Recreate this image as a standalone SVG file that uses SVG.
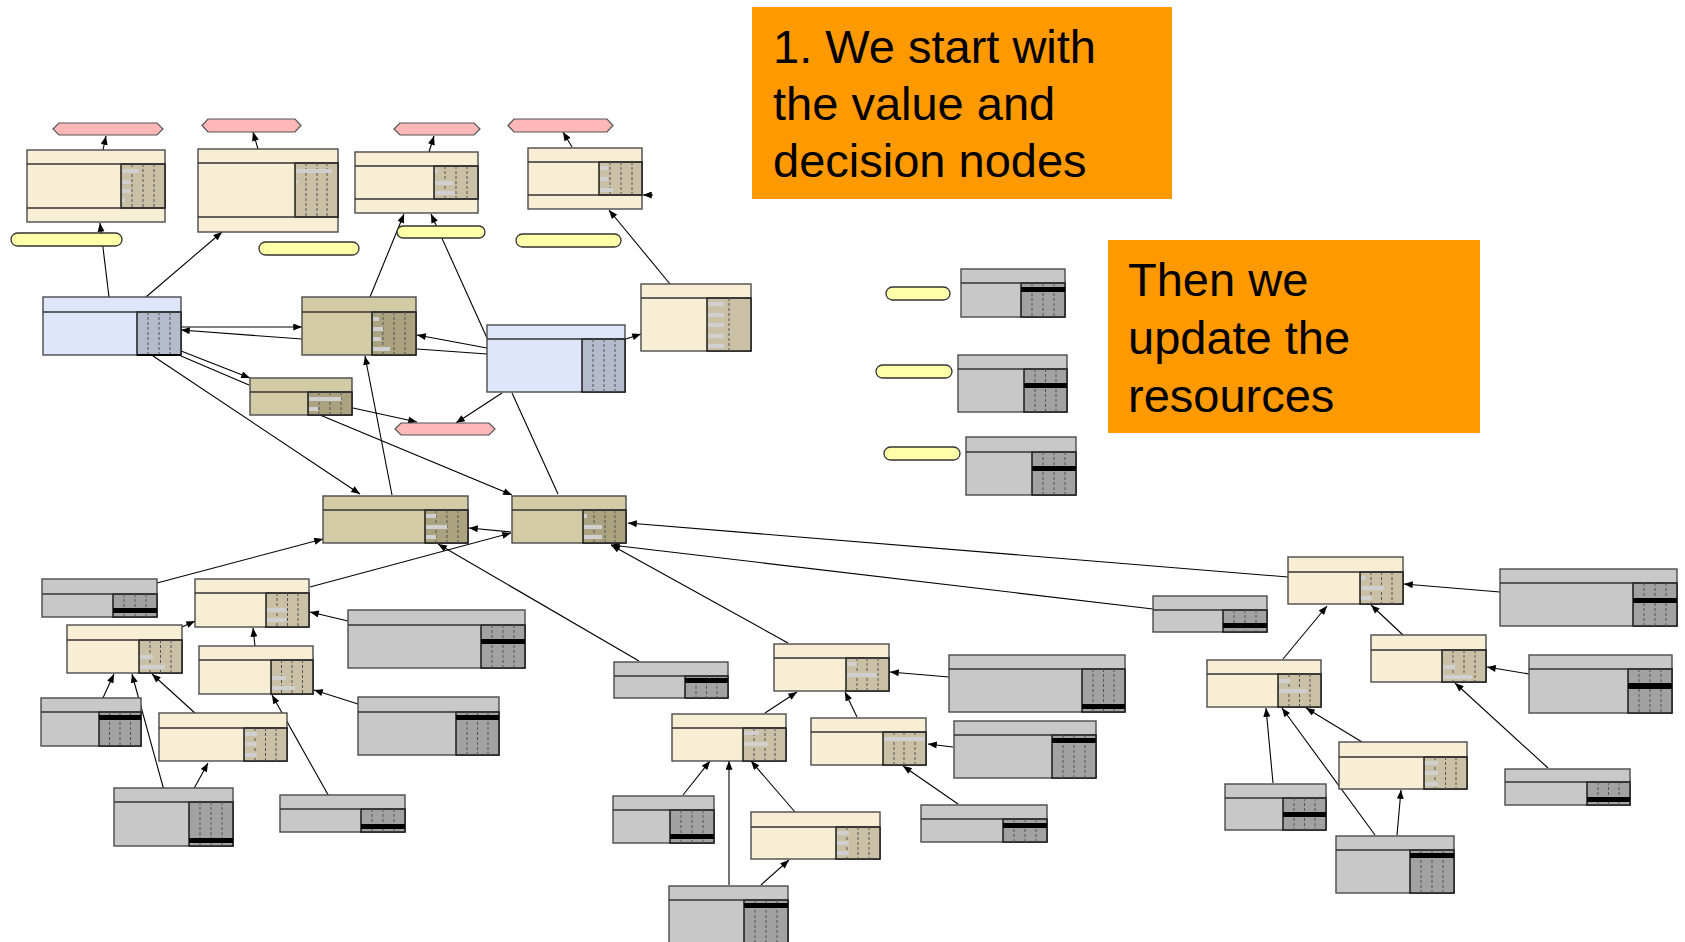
<svg xmlns="http://www.w3.org/2000/svg" width="1685" height="942" viewBox="0 0 1685 942">
<style>
.o{stroke:#4a4a4a;stroke-width:1.4}
.lt{fill:#f7eed3}.ltr{fill:#c9c0a6}
.dt{fill:#d3cba6}.dtr{fill:#aba27f}
.bl{fill:#dde6fb}.blr{fill:#b4bbcc}
.gr{fill:#c8c8c8}.grr{fill:#a2a2a2}
.sec{stroke:#111;stroke-width:1.4}
.hl{stroke:#333;stroke-width:1.3}
.ds{stroke:#555;stroke-width:1;stroke-dasharray:3 2}
.bar{fill:#d0d0d0}
.band{fill:#000}
.hex{fill:#ffb8b8;stroke:#555;stroke-width:1.2}
.pill{fill:#ffffaa;stroke:#333;stroke-width:1.3}
.e{stroke:#000;stroke-width:1.1;fill:none;marker-end:url(#ah)}
.n{stroke:#000;stroke-width:1.1;fill:none}
.note{fill:#ff9900}
.nt{font-family:"Liberation Sans",Arial,sans-serif;font-size:47px;fill:#000}
</style>
<defs>
<marker id="ah" viewBox="0 0 10 8" refX="10" refY="4" markerWidth="10" markerHeight="7" markerUnits="userSpaceOnUse" orient="auto"><path d="M0,0 L10,4 L0,8 z" fill="#000"/></marker>
</defs>
<rect width="1685" height="942" fill="#fff"/>

<g id="connectors">
<line class="e" x1="103" y1="150" x2="106" y2="136"/>
<line class="e" x1="258" y1="149" x2="253" y2="132"/>
<line class="e" x1="429" y1="152" x2="434" y2="136"/>
<line class="e" x1="572" y1="147" x2="563" y2="132"/>
<line class="e" x1="109" y1="297" x2="100" y2="223"/>
<line class="e" x1="146" y1="297" x2="222" y2="232"/>
<line class="e" x1="181" y1="327" x2="302" y2="327"/>
<line class="e" x1="302" y1="339" x2="181" y2="330"/>
<line class="e" x1="370" y1="297" x2="404" y2="214"/>
<line class="e" x1="487" y1="338" x2="431" y2="214"/>
<line class="e" x1="670" y1="284" x2="609" y2="210"/>
<line class="e" x1="626" y1="339" x2="641" y2="334"/>
<line class="e" x1="181" y1="351" x2="250" y2="378"/>
<line class="n" x1="181" y1="356" x2="249" y2="385"/>
<line class="e" x1="487" y1="348" x2="417" y2="335"/>
<line class="n" x1="487" y1="354" x2="417" y2="349"/>
<line class="e" x1="353" y1="408" x2="417" y2="422"/>
<line class="e" x1="502" y1="393" x2="456" y2="423"/>
<line class="e" x1="153" y1="356" x2="360" y2="494"/>
<line class="e" x1="320" y1="415" x2="512" y2="495"/>
<line class="e" x1="392" y1="495" x2="365" y2="356"/>
<line class="n" x1="558" y1="494" x2="512" y2="393"/>
<line class="e" x1="511" y1="532" x2="469" y2="528"/>
<line class="e" x1="157" y1="583" x2="323" y2="539"/>
<line class="e" x1="310" y1="587" x2="511" y2="533"/>
<line class="e" x1="639" y1="661" x2="438" y2="544"/>
<line class="e" x1="1288" y1="577" x2="628" y2="523"/>
<line class="e" x1="1153" y1="609" x2="611" y2="545"/>
<line class="e" x1="788" y1="643" x2="611" y2="545"/>
<line class="e" x1="182" y1="627" x2="195" y2="621"/>
<line class="e" x1="348" y1="621" x2="310" y2="612"/>
<line class="e" x1="255" y1="646" x2="253" y2="628"/>
<line class="e" x1="358" y1="704" x2="314" y2="690"/>
<line class="e" x1="102" y1="700" x2="114" y2="674"/>
<line class="e" x1="196" y1="714" x2="152" y2="674"/>
<line class="e" x1="165" y1="794" x2="132" y2="674"/>
<line class="e" x1="191" y1="794" x2="208" y2="763"/>
<line class="e" x1="331" y1="800" x2="272" y2="695"/>
<line class="e" x1="949" y1="677" x2="890" y2="672"/>
<line class="e" x1="765" y1="713" x2="797" y2="692"/>
<line class="e" x1="857" y1="717" x2="845" y2="692"/>
<line class="e" x1="953" y1="747" x2="928" y2="744"/>
<line class="e" x1="683" y1="795" x2="710" y2="761"/>
<line class="e" x1="795" y1="812" x2="751" y2="761"/>
<line class="e" x1="729" y1="885" x2="729" y2="761"/>
<line class="e" x1="761" y1="885" x2="789" y2="860"/>
<line class="e" x1="958" y1="804" x2="903" y2="766"/>
<line class="e" x1="1500" y1="592" x2="1404" y2="584"/>
<line class="e" x1="1283" y1="659" x2="1327" y2="606"/>
<line class="e" x1="1403" y1="635" x2="1371" y2="605"/>
<line class="e" x1="1529" y1="674" x2="1487" y2="667"/>
<line class="e" x1="1362" y1="742" x2="1306" y2="708"/>
<line class="e" x1="1273" y1="783" x2="1266" y2="708"/>
<line class="e" x1="1375" y1="835" x2="1282" y2="708"/>
<line class="e" x1="1397" y1="835" x2="1401" y2="790"/>
<line class="e" x1="1548" y1="768" x2="1455" y2="683"/>
<line class="e" x1="653" y1="195" x2="643" y2="195"/>
</g>

<g id="P1"><polygon class="hex" points="53,129 59,123 157,123 163,129 157,135 59,135"/></g>
<g id="P2"><polygon class="hex" points="202,125.5 208,119 295,119 301,125.5 295,132 208,132"/></g>
<g id="P3"><polygon class="hex" points="394,129 400,123 474,123 480,129 474,135 400,135"/></g>
<g id="P4"><polygon class="hex" points="508,125.5 514,119 607,119 613,125.5 607,132 514,132"/></g>
<g id="P5"><polygon class="hex" points="395,429 401,423 489,423 495,429 489,435 401,435"/></g>

<g id="Y1"><rect class="pill" x="11" y="233" width="111" height="13" rx="6.5"/></g>
<g id="Y2"><rect class="pill" x="259" y="242" width="100" height="13" rx="6.5"/></g>
<g id="Y3"><rect class="pill" x="397" y="226" width="88" height="12" rx="6"/></g>
<g id="Y4"><rect class="pill" x="516" y="234" width="105" height="13" rx="6.5"/></g>
<g id="L1"><rect class="pill" x="886" y="287" width="64" height="13" rx="6.5"/></g>
<g id="L2"><rect class="pill" x="876" y="365" width="76" height="13" rx="6.5"/></g>
<g id="L3"><rect class="pill" x="884" y="447" width="76" height="13" rx="6.5"/></g>

<!-- light tan nodes with bottom band -->
<g id="A1"><rect class="lt o" x="27" y="150" width="138" height="72"/><rect class="ltr sec" x="121" y="164" width="44" height="44"/><line class="hl" x1="27" y1="164" x2="165" y2="164"/><line class="hl" x1="27" y1="208" x2="165" y2="208"/><line class="ds" x1="132" y1="164" x2="132" y2="208"/><line class="ds" x1="143" y1="164" x2="143" y2="208"/><line class="ds" x1="154" y1="164" x2="154" y2="208"/><rect class="bar" x="122" y="169" width="17" height="4"/><rect class="bar" x="122" y="180" width="8" height="4"/><rect class="bar" x="122" y="189" width="9" height="4"/><rect class="bar" x="122" y="198" width="3" height="4"/></g>
<g id="A2"><rect class="lt o" x="198" y="149" width="140" height="83"/><rect class="ltr sec" x="295" y="163" width="43" height="54"/><line class="hl" x1="198" y1="163" x2="339" y2="163"/><line class="hl" x1="198" y1="217" x2="339" y2="217"/><line class="ds" x1="306" y1="163" x2="306" y2="217"/><line class="ds" x1="317" y1="163" x2="317" y2="217"/><line class="ds" x1="327" y1="163" x2="327" y2="217"/><rect class="bar" x="296" y="169" width="36" height="4"/><rect class="bar" x="296" y="180" width="2" height="3"/></g>
<g id="A3"><rect class="lt o" x="355" y="152" width="123" height="61"/><rect class="ltr sec" x="434" y="166" width="44" height="33"/><line class="hl" x1="355" y1="166" x2="478" y2="166"/><line class="hl" x1="355" y1="199" x2="478" y2="199"/><line class="ds" x1="445" y1="166" x2="445" y2="199"/><line class="ds" x1="456" y1="166" x2="456" y2="199"/><line class="ds" x1="467" y1="166" x2="467" y2="199"/><rect class="bar" x="435" y="169" width="3" height="4"/><rect class="bar" x="435" y="181" width="18" height="4"/><rect class="bar" x="435" y="191" width="20" height="4"/></g>
<g id="A4"><rect class="lt o" x="528" y="148" width="114" height="61"/><rect class="ltr sec" x="599" y="162" width="43" height="33"/><line class="hl" x1="528" y1="162" x2="642" y2="162"/><line class="hl" x1="528" y1="195" x2="642" y2="195"/><line class="ds" x1="610" y1="162" x2="610" y2="195"/><line class="ds" x1="621" y1="162" x2="621" y2="195"/><line class="ds" x1="632" y1="162" x2="632" y2="195"/><rect class="bar" x="600" y="166" width="8" height="4"/><rect class="bar" x="600" y="177" width="8" height="4"/><rect class="bar" x="600" y="188" width="13" height="4"/></g>

<!-- blue decision nodes -->
<g id="B1"><rect class="bl o" x="43" y="297" width="138" height="58"/><rect class="blr sec" x="137" y="312" width="44" height="43"/><line class="hl" x1="43" y1="312" x2="181" y2="312"/><line class="ds" x1="148" y1="312" x2="148" y2="355"/><line class="ds" x1="159" y1="312" x2="159" y2="355"/><line class="ds" x1="170" y1="312" x2="170" y2="355"/><line stroke="#000" stroke-width="2" x1="137" y1="355" x2="181" y2="355"/></g>
<g id="B2"><rect class="bl o" x="487" y="325" width="138" height="67"/><rect class="blr sec" x="582" y="339" width="43" height="53"/><line class="hl" x1="487" y1="339" x2="625" y2="339"/><line class="ds" x1="593" y1="339" x2="593" y2="392"/><line class="ds" x1="604" y1="339" x2="604" y2="392"/><line class="ds" x1="615" y1="339" x2="615" y2="392"/></g>

<!-- dark tan nodes -->
<g id="C1"><rect class="dt o" x="302" y="297" width="114" height="58"/><rect class="dtr sec" x="372" y="312" width="44" height="43"/><line class="hl" x1="302" y1="312" x2="416" y2="312"/><line class="ds" x1="383" y1="312" x2="383" y2="355"/><line class="ds" x1="394" y1="312" x2="394" y2="355"/><line class="ds" x1="405" y1="312" x2="405" y2="355"/><rect class="bar" x="373" y="317" width="6" height="4"/><rect class="bar" x="373" y="327" width="10" height="4"/><rect class="bar" x="373" y="337" width="8" height="4"/><rect class="bar" x="373" y="347" width="17" height="4"/></g>
<g id="C2"><rect class="dt o" x="250" y="378" width="102" height="37"/><rect class="dtr sec" x="308" y="392" width="44" height="23"/><line class="hl" x1="250" y1="392" x2="352" y2="392"/><line class="ds" x1="319" y1="392" x2="319" y2="415"/><line class="ds" x1="330" y1="392" x2="330" y2="415"/><line class="ds" x1="341" y1="392" x2="341" y2="415"/><rect class="bar" x="309" y="397" width="32" height="4"/><rect class="bar" x="309" y="407" width="9" height="4"/></g>
<g id="E1"><rect class="dt o" x="323" y="496" width="145" height="47"/><rect class="dtr sec" x="425" y="510" width="43" height="33"/><line class="hl" x1="323" y1="510" x2="468" y2="510"/><line class="ds" x1="436" y1="510" x2="436" y2="543"/><line class="ds" x1="447" y1="510" x2="447" y2="543"/><line class="ds" x1="458" y1="510" x2="458" y2="543"/><rect class="bar" x="426" y="514" width="10" height="4"/><rect class="bar" x="426" y="525" width="21" height="4"/><rect class="bar" x="426" y="535" width="10" height="4"/></g>
<g id="E2"><rect class="dt o" x="512" y="496" width="114" height="47"/><rect class="dtr sec" x="583" y="510" width="43" height="33"/><line class="hl" x1="512" y1="510" x2="626" y2="510"/><line class="ds" x1="594" y1="510" x2="594" y2="543"/><line class="ds" x1="605" y1="510" x2="605" y2="543"/><line class="ds" x1="615" y1="510" x2="615" y2="543"/><rect class="bar" x="584" y="514" width="3" height="4"/><rect class="bar" x="584" y="525" width="18" height="4"/><rect class="bar" x="584" y="535" width="18" height="4"/></g>

<!-- light tan nodes -->
<g id="A5"><rect class="lt o" x="641" y="284" width="110" height="67"/><rect class="ltr sec" x="707" y="298" width="44" height="53"/><line class="hl" x1="641" y1="298" x2="751" y2="298"/><line class="ds" x1="729" y1="298" x2="729" y2="351"/><rect class="bar" x="708" y="302" width="16" height="4"/><rect class="bar" x="708" y="313" width="16" height="4"/><rect class="bar" x="708" y="323" width="16" height="4"/><rect class="bar" x="708" y="334" width="16" height="4"/><rect class="bar" x="708" y="344" width="16" height="4"/></g>
<g id="F1"><rect class="lt o" x="67" y="625" width="115" height="48"/><rect class="ltr sec" x="139" y="640" width="43" height="33"/><line class="hl" x1="67" y1="640" x2="182" y2="640"/><line class="ds" x1="150" y1="640" x2="150" y2="673"/><line class="ds" x1="160.5" y1="640" x2="160.5" y2="673"/><line class="ds" x1="171" y1="640" x2="171" y2="673"/><rect class="bar" x="140" y="655" width="13" height="4"/><rect class="bar" x="140" y="665" width="25" height="4"/></g>
<g id="F2"><rect class="lt o" x="195" y="579" width="114" height="48"/><rect class="ltr sec" x="266" y="593" width="43" height="34"/><line class="hl" x1="195" y1="593" x2="309" y2="593"/><line class="ds" x1="277" y1="593" x2="277" y2="627"/><line class="ds" x1="287.5" y1="593" x2="287.5" y2="627"/><line class="ds" x1="298" y1="593" x2="298" y2="627"/><rect class="bar" x="267" y="608" width="19" height="4"/><rect class="bar" x="267" y="618" width="19" height="4"/></g>
<g id="F3"><rect class="lt o" x="199" y="646" width="114" height="48"/><rect class="ltr sec" x="271" y="660" width="42" height="34"/><line class="hl" x1="199" y1="660" x2="313" y2="660"/><line class="ds" x1="281.5" y1="660" x2="281.5" y2="694"/><line class="ds" x1="292" y1="660" x2="292" y2="694"/><line class="ds" x1="302.5" y1="660" x2="302.5" y2="694"/><rect class="bar" x="272" y="676" width="14" height="4"/><rect class="bar" x="272" y="686" width="23" height="4"/></g>
<g id="F4"><rect class="lt o" x="159" y="713" width="128" height="48"/><rect class="ltr sec" x="244" y="728" width="43" height="33"/><line class="hl" x1="159" y1="728" x2="287" y2="728"/><line class="ds" x1="255" y1="728" x2="255" y2="761"/><line class="ds" x1="265.5" y1="728" x2="265.5" y2="761"/><line class="ds" x1="276" y1="728" x2="276" y2="761"/><rect class="bar" x="245" y="732" width="12" height="4"/><rect class="bar" x="245" y="742" width="12" height="4"/><rect class="bar" x="245" y="753" width="12" height="4"/></g>
<g id="J1"><rect class="lt o" x="774" y="644" width="115" height="47"/><rect class="ltr sec" x="846" y="658" width="43" height="33"/><line class="hl" x1="774" y1="658" x2="889" y2="658"/><line class="ds" x1="857" y1="658" x2="857" y2="691"/><line class="ds" x1="867" y1="658" x2="867" y2="691"/><line class="ds" x1="878" y1="658" x2="878" y2="691"/><rect class="bar" x="847" y="662" width="10" height="4"/><rect class="bar" x="847" y="673" width="30" height="4"/></g>
<g id="J3"><rect class="lt o" x="672" y="714" width="114" height="47"/><rect class="ltr sec" x="743" y="728" width="43" height="33"/><line class="hl" x1="672" y1="728" x2="786" y2="728"/><line class="ds" x1="754" y1="728" x2="754" y2="761"/><line class="ds" x1="765" y1="728" x2="765" y2="761"/><line class="ds" x1="775" y1="728" x2="775" y2="761"/><rect class="bar" x="744" y="731" width="15" height="4"/><rect class="bar" x="744" y="742" width="24" height="4"/></g>
<g id="J4"><rect class="lt o" x="811" y="718" width="115" height="47"/><rect class="ltr sec" x="883" y="732" width="43" height="33"/><line class="hl" x1="811" y1="732" x2="926" y2="732"/><line class="ds" x1="894" y1="732" x2="894" y2="765"/><line class="ds" x1="904" y1="732" x2="904" y2="765"/><line class="ds" x1="915" y1="732" x2="915" y2="765"/><rect class="bar" x="884" y="737" width="41" height="4"/></g>
<g id="J7"><rect class="lt o" x="751" y="812" width="129" height="47"/><rect class="ltr sec" x="836" y="827" width="44" height="32"/><line class="hl" x1="751" y1="827" x2="880" y2="827"/><line class="ds" x1="847" y1="827" x2="847" y2="859"/><line class="ds" x1="858" y1="827" x2="858" y2="859"/><line class="ds" x1="869" y1="827" x2="869" y2="859"/><rect class="bar" x="837" y="831" width="12" height="4"/><rect class="bar" x="837" y="841" width="12" height="4"/><rect class="bar" x="837" y="851" width="12" height="4"/></g>
<g id="H1"><rect class="lt o" x="1288" y="557" width="115" height="47"/><rect class="ltr sec" x="1360" y="572" width="43" height="32"/><line class="hl" x1="1288" y1="572" x2="1403" y2="572"/><line class="ds" x1="1371" y1="572" x2="1371" y2="604"/><line class="ds" x1="1381.5" y1="572" x2="1381.5" y2="604"/><line class="ds" x1="1392" y1="572" x2="1392" y2="604"/><rect class="bar" x="1361" y="576" width="5" height="4"/><rect class="bar" x="1361" y="586" width="23" height="4"/><rect class="bar" x="1361" y="596" width="11" height="4"/></g>
<g id="H3"><rect class="lt o" x="1207" y="660" width="114" height="47"/><rect class="ltr sec" x="1278" y="674" width="43" height="33"/><line class="hl" x1="1207" y1="674" x2="1321" y2="674"/><line class="ds" x1="1289" y1="674" x2="1289" y2="707"/><line class="ds" x1="1299.5" y1="674" x2="1299.5" y2="707"/><line class="ds" x1="1310" y1="674" x2="1310" y2="707"/><rect class="bar" x="1279" y="679" width="11" height="4"/><rect class="bar" x="1279" y="689" width="28" height="4"/></g>
<g id="H4"><rect class="lt o" x="1371" y="635" width="115" height="47"/><rect class="ltr sec" x="1442" y="650" width="44" height="32"/><line class="hl" x1="1371" y1="650" x2="1486" y2="650"/><line class="ds" x1="1453" y1="650" x2="1453" y2="682"/><line class="ds" x1="1464" y1="650" x2="1464" y2="682"/><line class="ds" x1="1475" y1="650" x2="1475" y2="682"/><rect class="bar" x="1443" y="665" width="12" height="4"/><rect class="bar" x="1443" y="675" width="29" height="4"/></g>
<g id="H6"><rect class="lt o" x="1339" y="742" width="128" height="47"/><rect class="ltr sec" x="1424" y="757" width="43" height="32"/><line class="hl" x1="1339" y1="757" x2="1467" y2="757"/><line class="ds" x1="1435" y1="757" x2="1435" y2="789"/><line class="ds" x1="1445.5" y1="757" x2="1445.5" y2="789"/><line class="ds" x1="1456" y1="757" x2="1456" y2="789"/><rect class="bar" x="1425" y="761" width="13" height="4"/><rect class="bar" x="1425" y="771" width="13" height="4"/><rect class="bar" x="1425" y="782" width="13" height="4"/></g>

<!-- gray nodes -->
<g id="G1"><rect class="gr o" x="42" y="579" width="115" height="38"/><rect class="grr sec" x="113" y="594" width="44" height="23"/><line class="hl" x1="42" y1="594" x2="157" y2="594"/><line class="ds" x1="124" y1="594" x2="124" y2="617"/><line class="ds" x1="135" y1="594" x2="135" y2="617"/><line class="ds" x1="146" y1="594" x2="146" y2="617"/><rect class="band" x="113" y="608" width="44" height="5"/></g>
<g id="G2"><rect class="gr o" x="348" y="610" width="177" height="58"/><rect class="grr sec" x="481" y="625" width="44" height="43"/><line class="hl" x1="348" y1="625" x2="525" y2="625"/><line class="ds" x1="492" y1="625" x2="492" y2="668"/><line class="ds" x1="503" y1="625" x2="503" y2="668"/><line class="ds" x1="514" y1="625" x2="514" y2="668"/><rect class="band" x="481" y="639" width="44" height="5"/></g>
<g id="G3"><rect class="gr o" x="358" y="697" width="141" height="58"/><rect class="grr sec" x="456" y="712" width="43" height="43"/><line class="hl" x1="358" y1="712" x2="499" y2="712"/><line class="ds" x1="467" y1="712" x2="467" y2="755"/><line class="ds" x1="477.5" y1="712" x2="477.5" y2="755"/><line class="ds" x1="488" y1="712" x2="488" y2="755"/><rect class="band" x="456" y="715" width="43" height="5"/></g>
<g id="G4"><rect class="gr o" x="41" y="698" width="100" height="48"/><rect class="grr sec" x="99" y="712" width="42" height="34"/><line class="hl" x1="41" y1="712" x2="141" y2="712"/><line class="ds" x1="109.5" y1="712" x2="109.5" y2="746"/><line class="ds" x1="120" y1="712" x2="120" y2="746"/><line class="ds" x1="130.5" y1="712" x2="130.5" y2="746"/><rect class="band" x="99" y="715" width="42" height="5"/></g>
<g id="G5"><rect class="gr o" x="114" y="788" width="119" height="58"/><rect class="grr sec" x="189" y="802" width="44" height="44"/><line class="hl" x1="114" y1="802" x2="233" y2="802"/><line class="ds" x1="200" y1="802" x2="200" y2="846"/><line class="ds" x1="211" y1="802" x2="211" y2="846"/><line class="ds" x1="222" y1="802" x2="222" y2="846"/><rect class="band" x="189" y="838" width="44" height="5"/></g>
<g id="G6"><rect class="gr o" x="280" y="795" width="125" height="37"/><rect class="grr sec" x="361" y="809" width="44" height="23"/><line class="hl" x1="280" y1="809" x2="405" y2="809"/><line class="ds" x1="372" y1="809" x2="372" y2="832"/><line class="ds" x1="383" y1="809" x2="383" y2="832"/><line class="ds" x1="394" y1="809" x2="394" y2="832"/><rect class="band" x="361" y="824" width="44" height="5"/></g>
<g id="J0"><rect class="gr o" x="614" y="662" width="114" height="36"/><rect class="grr sec" x="685" y="676" width="43" height="22"/><line class="hl" x1="614" y1="676" x2="728" y2="676"/><line class="ds" x1="696" y1="676" x2="696" y2="698"/><line class="ds" x1="706.5" y1="676" x2="706.5" y2="698"/><line class="ds" x1="717" y1="676" x2="717" y2="698"/><rect class="band" x="685" y="678" width="43" height="5"/></g>
<g id="J2"><rect class="gr o" x="949" y="655" width="176" height="57"/><rect class="grr sec" x="1082" y="669" width="43" height="43"/><line class="hl" x1="949" y1="669" x2="1125" y2="669"/><line class="ds" x1="1093" y1="669" x2="1093" y2="712"/><line class="ds" x1="1103.5" y1="669" x2="1103.5" y2="712"/><line class="ds" x1="1114" y1="669" x2="1114" y2="712"/><rect class="band" x="1082" y="704" width="43" height="5"/></g>
<g id="J5"><rect class="gr o" x="954" y="721" width="142" height="57"/><rect class="grr sec" x="1052" y="735" width="44" height="43"/><line class="hl" x1="954" y1="735" x2="1096" y2="735"/><line class="ds" x1="1063" y1="735" x2="1063" y2="778"/><line class="ds" x1="1074" y1="735" x2="1074" y2="778"/><line class="ds" x1="1085" y1="735" x2="1085" y2="778"/><rect class="band" x="1052" y="738" width="44" height="5"/></g>
<g id="J6"><rect class="gr o" x="613" y="796" width="101" height="47"/><rect class="grr sec" x="670" y="810" width="44" height="33"/><line class="hl" x1="613" y1="810" x2="714" y2="810"/><line class="ds" x1="681" y1="810" x2="681" y2="843"/><line class="ds" x1="692" y1="810" x2="692" y2="843"/><line class="ds" x1="703" y1="810" x2="703" y2="843"/><rect class="band" x="670" y="834" width="44" height="5"/></g>
<g id="J8"><rect class="gr o" x="669" y="886" width="119" height="70"/><rect class="grr sec" x="744" y="900" width="44" height="56"/><line class="hl" x1="669" y1="900" x2="788" y2="900"/><line class="ds" x1="755" y1="900" x2="755" y2="942"/><line class="ds" x1="766" y1="900" x2="766" y2="942"/><line class="ds" x1="777" y1="900" x2="777" y2="942"/><rect class="band" x="744" y="903" width="44" height="5"/></g>
<g id="J9"><rect class="gr o" x="921" y="805" width="126" height="37"/><rect class="grr sec" x="1003" y="819" width="44" height="23"/><line class="hl" x1="921" y1="819" x2="1047" y2="819"/><line class="ds" x1="1014" y1="819" x2="1014" y2="842"/><line class="ds" x1="1025" y1="819" x2="1025" y2="842"/><line class="ds" x1="1036" y1="819" x2="1036" y2="842"/><rect class="band" x="1003" y="823" width="44" height="5"/></g>
<g id="K"><rect class="gr o" x="1153" y="596" width="114" height="36"/><rect class="grr sec" x="1223" y="610" width="44" height="22"/><line class="hl" x1="1153" y1="610" x2="1267" y2="610"/><line class="ds" x1="1234" y1="610" x2="1234" y2="632"/><line class="ds" x1="1245" y1="610" x2="1245" y2="632"/><line class="ds" x1="1256" y1="610" x2="1256" y2="632"/><rect class="band" x="1223" y="623" width="44" height="5"/></g>
<g id="H2"><rect class="gr o" x="1500" y="569" width="177" height="57"/><rect class="grr sec" x="1633" y="583" width="44" height="43"/><line class="hl" x1="1500" y1="583" x2="1677" y2="583"/><line class="ds" x1="1644" y1="583" x2="1644" y2="626"/><line class="ds" x1="1655" y1="583" x2="1655" y2="626"/><line class="ds" x1="1666" y1="583" x2="1666" y2="626"/><rect class="band" x="1633" y="598" width="44" height="5"/></g>
<g id="H5"><rect class="gr o" x="1529" y="655" width="143" height="58"/><rect class="grr sec" x="1628" y="669" width="44" height="44"/><line class="hl" x1="1529" y1="669" x2="1672" y2="669"/><line class="ds" x1="1639" y1="669" x2="1639" y2="713"/><line class="ds" x1="1650" y1="669" x2="1650" y2="713"/><line class="ds" x1="1661" y1="669" x2="1661" y2="713"/><rect class="band" x="1628" y="683" width="44" height="6"/></g>
<g id="H7"><rect class="gr o" x="1225" y="784" width="101" height="46"/><rect class="grr sec" x="1283" y="798" width="43" height="32"/><line class="hl" x1="1225" y1="798" x2="1326" y2="798"/><line class="ds" x1="1294" y1="798" x2="1294" y2="830"/><line class="ds" x1="1304.5" y1="798" x2="1304.5" y2="830"/><line class="ds" x1="1315" y1="798" x2="1315" y2="830"/><rect class="band" x="1283" y="812" width="43" height="5"/></g>
<g id="H8"><rect class="gr o" x="1336" y="836" width="118" height="57"/><rect class="grr sec" x="1410" y="850" width="44" height="43"/><line class="hl" x1="1336" y1="850" x2="1454" y2="850"/><line class="ds" x1="1421" y1="850" x2="1421" y2="893"/><line class="ds" x1="1432" y1="850" x2="1432" y2="893"/><line class="ds" x1="1443" y1="850" x2="1443" y2="893"/><rect class="band" x="1410" y="853" width="44" height="5"/></g>
<g id="H9"><rect class="gr o" x="1505" y="769" width="125" height="36"/><rect class="grr sec" x="1587" y="782" width="43" height="23"/><line class="hl" x1="1505" y1="782" x2="1630" y2="782"/><line class="ds" x1="1598" y1="782" x2="1598" y2="805"/><line class="ds" x1="1608.5" y1="782" x2="1608.5" y2="805"/><line class="ds" x1="1619" y1="782" x2="1619" y2="805"/><rect class="band" x="1587" y="797" width="43" height="5"/></g>
<g id="M1"><rect class="gr o" x="961" y="269" width="104" height="48"/><rect class="grr sec" x="1021" y="283" width="44" height="34"/><line class="hl" x1="961" y1="283" x2="1065" y2="283"/><line class="ds" x1="1032" y1="283" x2="1032" y2="317"/><line class="ds" x1="1043" y1="283" x2="1043" y2="317"/><line class="ds" x1="1054" y1="283" x2="1054" y2="317"/><rect class="band" x="1021" y="287" width="44" height="5"/></g>
<g id="M2"><rect class="gr o" x="958" y="355" width="109" height="57"/><rect class="grr sec" x="1024" y="369" width="43" height="43"/><line class="hl" x1="958" y1="369" x2="1067" y2="369"/><line class="ds" x1="1035" y1="369" x2="1035" y2="412"/><line class="ds" x1="1045.5" y1="369" x2="1045.5" y2="412"/><line class="ds" x1="1056" y1="369" x2="1056" y2="412"/><rect class="band" x="1024" y="383" width="43" height="5"/></g>
<g id="M3"><rect class="gr o" x="966" y="437" width="110" height="58"/><rect class="grr sec" x="1032" y="452" width="44" height="43"/><line class="hl" x1="966" y1="452" x2="1076" y2="452"/><line class="ds" x1="1043" y1="452" x2="1043" y2="495"/><line class="ds" x1="1054" y1="452" x2="1054" y2="495"/><line class="ds" x1="1065" y1="452" x2="1065" y2="495"/><rect class="band" x="1032" y="466" width="44" height="5"/></g>

<g id="note1"><rect class="note" x="752" y="7" width="420" height="192"/><text class="nt" x="773" y="63">1. We start with</text><text class="nt" x="773" y="120">the value and</text><text class="nt" x="773" y="177">decision nodes</text></g>
<g id="note2"><rect class="note" x="1108" y="240" width="372" height="193"/><text class="nt" x="1128" y="296">Then we</text><text class="nt" x="1128" y="354">update the</text><text class="nt" x="1128" y="412">resources</text></g>
</svg>
